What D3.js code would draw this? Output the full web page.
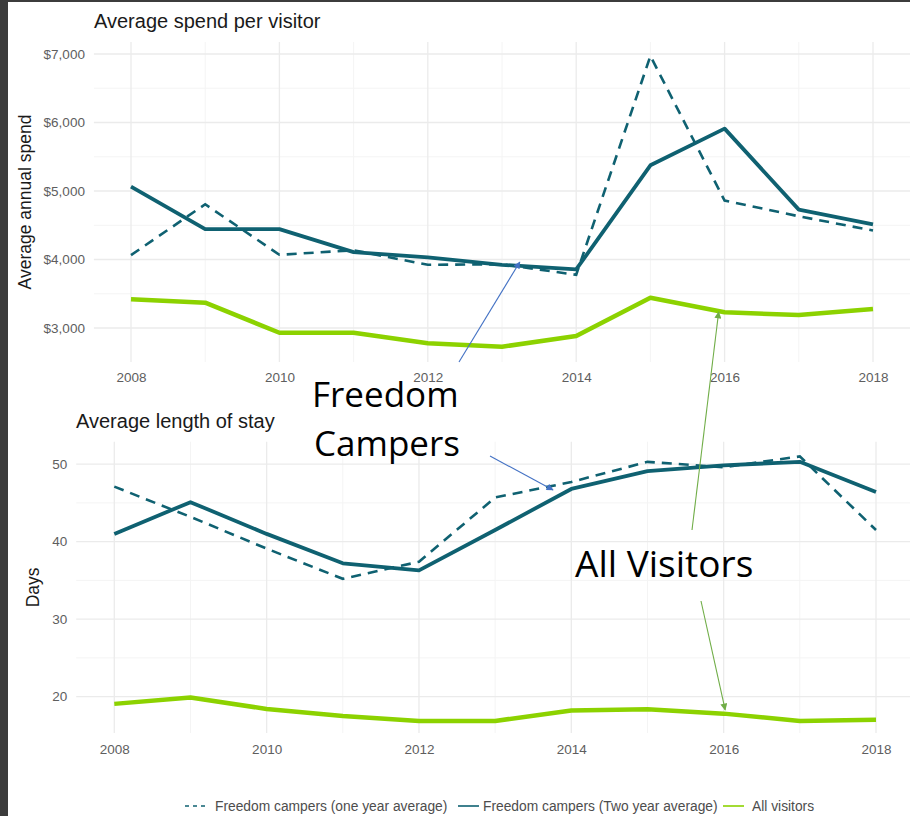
<!DOCTYPE html>
<html>
<head>
<meta charset="utf-8">
<script src="https://cdn.jsdelivr.net/npm/d3@7"></script>
<style>
  body { margin: 0; background: #fff; }
</style>
</head>
<body>
<div id="chart"></div>
<script>
// ---- data ----
var years = [2008, 2009, 2010, 2011, 2012, 2013, 2014, 2015, 2016, 2017, 2018];

// average annual spend ($)
var spendOneYear = [4064, 4806, 4069, 4135, 3923, 3930, 3777, 6971, 4860, 4631, 4423];
var spendTwoYear = [5065, 4444, 4444, 4108, 4030, 3923, 3855, 5375, 5911, 4728, 4514];
var spendAll     = [3419, 3370, 2931, 2931, 2777, 2727, 2883, 3442, 3229, 3190, 3277];

// average length of stay (days)
var stayOneYear = [47.1, 43.2, 39.1, 35.2, 37.4, 45.7, 47.7, 50.3, 49.6, 51.0, 41.5];
var stayTwoYear = [41.0, 45.1, 41.0, 37.2, 36.3, 41.5, 46.8, 49.1, 49.85, 50.3, 46.4];
var stayAll     = [19.06, 19.87, 18.4, 17.5, 16.86, 16.86, 18.2, 18.37, 17.8, 16.86, 17.0];

var xTicks = [2008, 2010, 2012, 2014, 2016, 2018];
var spendTicks = [3000, 4000, 5000, 6000, 7000];
var spendMinor = [3500, 4500, 5500, 6500];
var stayTicks = [20, 30, 40, 50];
var stayMinor = [25, 35, 45];

var legendLabels = ["Freedom campers (one year average)", "Freedom campers (Two year average)", "All visitors"];

var W = 910, H = 816;
var teal = "#0f6171", green = "#8cd200";
var sans = "'Liberation Sans', Arial, sans-serif";

var svg = d3.select("#chart").append("svg")
  .attr("width", W).attr("height", H)
  .style("font-family", sans);

// dark screenshot frame on the left and top
svg.append("rect").attr("x", 0).attr("y", 0).attr("width", W).attr("height", 2).attr("fill", "#3c3c3c");
svg.append("rect").attr("x", 0).attr("y", 0).attr("width", 8).attr("height", H).attr("fill", "#3c3c3c");

svg.append("defs").selectAll("marker")
  .data([["arBlue", "#4472c4"], ["arGreen", "#70ad47"]])
  .enter().append("marker")
  .attr("id", d => d[0])
  .attr("viewBox", "0 0 10 10")
  .attr("refX", 9).attr("refY", 5)
  .attr("markerWidth", 9).attr("markerHeight", 7)
  .attr("markerUnits", "userSpaceOnUse")
  .attr("orient", "auto")
  .append("path").attr("d", "M0,0 L10,5 L0,10 z").attr("fill", d => d[1]);

function panel(opt) {
  var g = svg.append("g");
  var x = d3.scaleLinear().domain([2008, 2018]).range(opt.xr);
  var y = d3.scaleLinear().domain(opt.yd).range(opt.yr);
  var left = opt.xr[0] - (opt.xr[1] - opt.xr[0]) * 0.05;
  var right = opt.xr[1] + (opt.xr[1] - opt.xr[0]) * 0.05;

  // minor grid
  g.selectAll(".hmin").data(opt.minor).enter().append("line")
    .attr("x1", left).attr("x2", right)
    .attr("y1", d => y(d)).attr("y2", d => y(d))
    .attr("stroke", "#f4f4f4").attr("stroke-width", 1);
  g.selectAll(".vmin").data(years.filter(d => xTicks.indexOf(d) < 0)).enter().append("line")
    .attr("x1", d => x(d)).attr("x2", d => x(d))
    .attr("y1", opt.yr[0]).attr("y2", opt.yr[1])
    .attr("stroke", "#f4f4f4").attr("stroke-width", 1);
  // major grid
  g.selectAll(".hmaj").data(opt.ticks).enter().append("line")
    .attr("x1", left).attr("x2", right)
    .attr("y1", d => y(d)).attr("y2", d => y(d))
    .attr("stroke", "#ebebeb").attr("stroke-width", 1.3);
  g.selectAll(".vmaj").data(xTicks).enter().append("line")
    .attr("x1", d => x(d)).attr("x2", d => x(d))
    .attr("y1", opt.yr[0]).attr("y2", opt.yr[1])
    .attr("stroke", "#ebebeb").attr("stroke-width", 1.3);

  // axes
  var ya = g.append("g").attr("transform", "translate(" + left + ",0)")
    .call(d3.axisLeft(y).tickValues(opt.ticks).tickSize(0).tickPadding(9).tickFormat(opt.fmt));
  var xa = g.append("g").attr("transform", "translate(0," + opt.yr[0] + ")")
    .call(d3.axisBottom(x).tickValues(xTicks).tickSize(0).tickPadding(opt.xpad).tickFormat(d3.format("d")));
  [ya, xa].forEach(function (a) {
    a.select(".domain").remove();
    a.selectAll("text").attr("fill", "#5e5e5e").style("font-size", "13.5px")
      .style("font-family", sans);
  });

  // titles
  g.append("text").attr("x", opt.titleX).attr("y", opt.titleY)
    .style("font-size", "20px").attr("fill", "#1a1a1a").text(opt.title);
  g.append("text")
    .attr("transform", "translate(" + opt.ylabX + "," + ((opt.yr[0] + opt.yr[1]) / 2) + ") rotate(-90)")
    .attr("text-anchor", "middle").style("font-size", "17.5px").attr("fill", "#1a1a1a")
    .text(opt.ylab);

  var line = d3.line().x((d, i) => x(years[i])).y(d => y(d));
  g.append("path").datum(opt.all).attr("d", line)
    .attr("fill", "none").attr("stroke", green).attr("stroke-width", 4.5).attr("stroke-linejoin", "round");
  g.append("path").datum(opt.one).attr("d", line)
    .attr("fill", "none").attr("stroke", teal).attr("stroke-width", 2.6).attr("stroke-dasharray", "10,7");
  g.append("path").datum(opt.two).attr("d", line)
    .attr("fill", "none").attr("stroke", teal).attr("stroke-width", 3.8).attr("stroke-linejoin", "round");

  return { x: x, y: y };
}

var spendP = panel({
  xr: [131, 873], yd: [2504, 7175], yr: [362, 42],
  ticks: spendTicks, minor: spendMinor, fmt: d3.format("$,"),
  xpad: 10, title: "Average spend per visitor", titleX: 94, titleY: 28,
  ylab: "Average annual spend", ylabX: 31,
  one: spendOneYear, two: spendTwoYear, all: spendAll
});

var stayP = panel({
  xr: [114.3, 876], yd: [15.3, 52.9], yr: [733, 441.7],
  ticks: stayTicks, minor: stayMinor, fmt: d3.format("d"),
  xpad: 11, title: "Average length of stay", titleX: 76, titleY: 428,
  ylab: "Days", ylabX: 39,
  one: stayOneYear, two: stayTwoYear, all: stayAll
});

// legend at the bottom
var lg = svg.append("g");
var keys = [
  { x: 185, dash: "4,4", c: teal, tx: 215 },
  { x: 458, dash: null, c: teal, tx: 483 },
  { x: 723, dash: null, c: green, tx: 752 }
];
keys.forEach(function (k, i) {
  lg.append("line").attr("x1", k.x).attr("x2", k.x + 21).attr("y1", 806).attr("y2", 806)
    .attr("stroke", k.c).attr("stroke-width", 1.6).attr("stroke-dasharray", k.dash);
  lg.append("text").attr("x", k.tx).attr("y", 811).attr("fill", "#4d4d4d")
    .style("font-size", "13.8px").text(legendLabels[i]);
});

// call-outs (slide annotations)
var callFont = "'Open Sans', 'Noto Sans', sans-serif";
var ann = svg.append("g");
ann.append("text").attr("x", 312).attr("y", 407).style("font-family", callFont).style("font-size", "35px").text("Freedom");
ann.append("text").attr("x", 314).attr("y", 456).style("font-family", callFont).style("font-size", "35px").text("Campers");
ann.append("text").attr("x", 575).attr("y", 577).style("font-family", callFont).style("font-size", "37px").text("All Visitors");

var arrows = [
  { from: [459, 362], to: [spendP.x(2013.24), spendP.y(3964)], m: "arBlue", c: "#4472c4" },
  { from: [490, 456], to: [stayP.x(2013.76), stayP.y(46.67)], m: "arBlue", c: "#4472c4" },
  { from: [692, 530], to: [spendP.x(2015.92), spendP.y(3234)], m: "arGreen", c: "#70ad47" },
  { from: [701, 601], to: [stayP.x(2016.02), stayP.y(18.27)], m: "arGreen", c: "#70ad47" }
];
svg.selectAll(".arrow").data(arrows).enter().append("line")
  .attr("x1", d => d.from[0]).attr("y1", d => d.from[1])
  .attr("x2", d => d.to[0]).attr("y2", d => d.to[1])
  .attr("stroke", d => d.c).attr("stroke-width", 1.1)
  .attr("marker-end", d => "url(#" + d.m + ")");
</script>
</body>
</html>
